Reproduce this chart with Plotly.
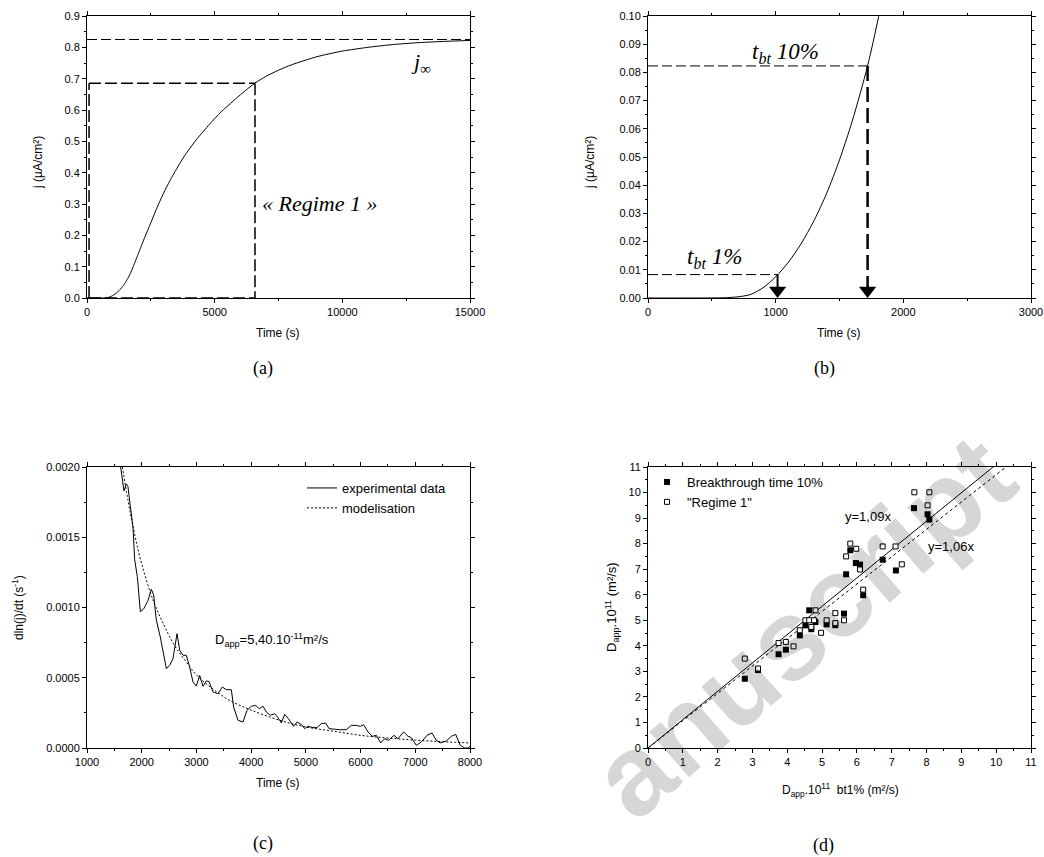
import plotly.graph_objects as go

# ---------------- data ----------------
# (a)/(b) permeation transient j(t)
t_s = [0, 400, 600, 700, 800, 900, 1000, 1100, 1200, 1300, 1400, 1500, 1600, 1720, 1807,
       1900, 2000, 2219, 2500, 2715, 3000, 3238, 3600, 3890, 4300, 4804, 5250, 5718, 6100, 6580,
       7000, 7500, 8000, 9000, 10000, 11000, 12000, 13000, 14000, 15000]
j_uA = [0, 0, 0.0001, 0.0004, 0.0012, 0.0036, 0.0075, 0.0127, 0.0193, 0.0274, 0.0372,
        0.0490, 0.0628, 0.0823, 0.0998, 0.1188, 0.1395, 0.185, 0.240, 0.283, 0.335, 0.373,
        0.425, 0.462, 0.507, 0.555, 0.594, 0.628, 0.655, 0.686, 0.707, 0.727, 0.744, 0.770,
        0.788, 0.800, 0.809, 0.815, 0.819, 0.822]
j_inf = 0.825
t_regime1_start = 80
t_regime1 = 6580
j_regime1 = 0.685
t_bt1, j_bt1 = 1015, 0.0083
t_bt10, j_bt10 = 1720, 0.0823

# (c) dln(j)/dt
t_exp = [1615, 1646, 1676, 1719, 1749, 1792, 1841, 1871, 1920, 1975, 2036, 2115, 2176, 2218,
         2267, 2340, 2450, 2511, 2572, 2645, 2694, 2755, 2815, 2876, 2937, 2998, 3059, 3120,
         3181, 3230, 3303, 3394, 3473, 3546, 3638, 3680, 3760, 3851, 3924, 4003, 4083, 4144,
         4217, 4278, 4351, 4430, 4491, 4552, 4613, 4680, 4777, 4838, 4917, 4978, 5039, 5130,
         5203, 5283, 5362, 5423, 5496, 5618, 5740, 5831, 5922, 5996, 6056, 6136, 6215, 6288,
         6367, 6440, 6513, 6611, 6684, 6787, 6867, 6928, 7019, 7110, 7214, 7305, 7384, 7457,
         7567, 7659, 7738, 7823, 7902, 7963, 8000]
dlnj_exp = [0.00200, 0.00191, 0.00183, 0.00188, 0.00186, 0.00172, 0.00157, 0.00134, 0.00122,
            0.00097, 0.00099, 0.00105, 0.00113, 0.00109, 0.00091, 0.00079, 0.000565, 0.000588,
            0.000636, 0.000814, 0.000695, 0.00066, 0.00066, 0.000577, 0.00047, 0.000441,
            0.000517, 0.000439, 0.000477, 0.000474, 0.000399, 0.000387, 0.000434, 0.000415,
            0.000415, 0.000292, 0.000197, 0.000185, 0.000268, 0.000297, 0.000304, 0.00028,
            0.000297, 0.000256, 0.000233, 0.000244, 0.000216, 0.000178, 0.00024, 0.000209,
            0.000154, 0.000185, 0.000168, 0.000138, 0.000154, 0.000145, 0.000145, 0.000173,
            0.000178, 0.000138, 0.000133, 0.00013, 0.00013, 0.000161, 0.000161, 0.000154,
            0.000166, 0.000114, 0.000083, 0.00009, 0.000036, 0.000066, 0.000055, 0.00009,
            0.000066, 0.000114, 0.000083, 0.000074, 0.000019, 0.000043, 0.00009, 0.000107,
            0.000055, 0.000036, 0.00005, 0.000083, 0.000097, 0.000019, 0.0, 0.0, 0.000012]
t_mod = [1646, 1750, 1871, 2000, 2200, 2400, 2600, 2800, 3000, 3300, 3600, 4000, 4500, 5000,
         5500, 6000, 6500, 7000, 7500, 8000]
dlnj_mod = [0.00200, 0.00176, 0.00152, 0.00131, 0.00106, 0.00088, 0.00073, 0.00062, 0.00052,
            0.00042, 0.00034, 0.00027, 0.00020, 0.00015, 0.00012, 0.000090, 0.000071,
            0.000056, 0.000045, 0.000036]

# (d) D_app comparison
x_bt10 = [2.78, 3.16, 3.75, 3.96, 4.36, 4.52, 4.63, 4.69, 4.81, 5.13, 5.38, 5.63, 5.69, 5.81,
          5.97, 6.09, 6.18, 6.74, 7.12, 7.64, 8.03, 8.08]
y_bt10 = [2.71, 3.05, 3.67, 3.85, 4.41, 4.80, 5.39, 4.65, 4.93, 4.84, 4.81, 5.26, 6.80, 7.74,
          7.24, 7.18, 5.98, 7.37, 6.95, 9.39, 9.15, 8.94]
x_reg1 = [2.78, 3.16, 3.75, 3.96, 4.18, 4.36, 4.52, 4.63, 4.69, 4.77, 4.81, 4.97, 5.13, 5.38,
          5.38, 5.63, 5.69, 5.81, 5.98, 6.09, 6.18, 6.74, 7.11, 7.29, 7.65, 8.08, 8.03]
y_reg1 = [3.50, 3.11, 4.11, 4.15, 3.98, 4.61, 5.00, 5.00, 4.74, 5.00, 5.39, 4.51, 5.00, 5.28,
          4.89, 5.00, 7.50, 8.00, 7.80, 6.99, 6.20, 7.89, 7.89, 7.19, 10.01, 10.01, 9.50]
slope_bt10 = 1.11
slope_reg1 = 1.07
x_fit = [0, 11]

# ---------------- layout helpers ----------------
W, H = 1044, 857
def fx(p):
    return p / W
def fy(p):
    return 1 - p / H

SANS = "Liberation Sans, Arial, sans-serif"
SERIF = "Liberation Serif, Times New Roman, serif"

fig = go.Figure()

# (a)
fig.add_trace(go.Scatter(x=t_s, y=j_uA, mode="lines", line=dict(color="black", width=1, shape="spline", smoothing=0.6),
                         showlegend=False, xaxis="x", yaxis="y"))
# (b)
fig.add_trace(go.Scatter(x=t_s, y=j_uA, mode="lines", line=dict(color="black", width=1, shape="spline", smoothing=0.8),
                         showlegend=False, xaxis="x2", yaxis="y2"))
tip_off = 0.1 * 7.5 / 282
fig.add_trace(go.Scatter(x=[t_bt1, t_bt10], y=[tip_off, tip_off], mode="markers",
                         marker=dict(symbol="triangle-down", size=15, color="black"),
                         showlegend=False, xaxis="x2", yaxis="y2", cliponaxis=False))
# (c)
fig.add_trace(go.Scatter(x=t_exp, y=dlnj_exp, mode="lines", name="experimental data",
                         line=dict(color="black", width=1), xaxis="x3", yaxis="y3", legend="legend"))
fig.add_trace(go.Scatter(x=t_mod, y=dlnj_mod, mode="lines", name="modelisation",
                         line=dict(color="black", width=1, dash="2px,2px", shape="spline"),
                         xaxis="x3", yaxis="y3", legend="legend"))
# (d)
fig.add_trace(go.Scatter(x=x_fit, y=[slope_bt10 * v for v in x_fit], mode="lines", showlegend=False,
                         line=dict(color="black", width=1), xaxis="x4", yaxis="y4"))
fig.add_trace(go.Scatter(x=x_fit, y=[slope_reg1 * v for v in x_fit], mode="lines", showlegend=False,
                         line=dict(color="black", width=1, dash="3px,3px"), xaxis="x4", yaxis="y4"))
fig.add_trace(go.Scatter(x=x_bt10, y=y_bt10, mode="markers", name="Breakthrough time 10%",
                         marker=dict(symbol="square", size=6, color="black"),
                         xaxis="x4", yaxis="y4", legend="legend2"))
fig.add_trace(go.Scatter(x=x_reg1, y=y_reg1, mode="markers", name="\"Regime 1\"",
                         marker=dict(symbol="square", size=5, color="white", line=dict(color="black", width=1)),
                         xaxis="x4", yaxis="y4", legend="legend2"))

axis_common = dict(showline=True, linecolor="black", linewidth=1, mirror="ticks", ticks="outside",
                   ticklen=4, tickwidth=1, tickcolor="black", showgrid=False, zeroline=False,
                   tickfont=dict(family=SANS, size=11, color="black"), automargin=False)

def minor(d):
    return dict(ticks="outside", ticklen=2, tickwidth=1, tickcolor="black", dtick=d, showgrid=False)

xa = [fx(87), fx(470)]
xb = [fx(648), fx(1031)]
ytop = [fy(298), fy(16)]
ybot = [fy(748), fy(467)]

fig.update_layout(
    width=W, height=H, margin=dict(l=0, r=0, t=0, b=0),
    paper_bgcolor="white", plot_bgcolor="white",
    xaxis=dict(domain=xa, range=[0, 15000], dtick=5000, tick0=0, minor=minor(2500), anchor="y", tickformat="d", **axis_common),
    yaxis=dict(domain=ytop, range=[0, 0.9], dtick=0.1, tick0=0, minor=minor(0.05), anchor="x", tickformat=".1f", **axis_common),
    xaxis2=dict(domain=xb, range=[0, 3000], dtick=1000, tick0=0, minor=minor(500), anchor="y2", tickformat="d", **axis_common),
    yaxis2=dict(domain=ytop, range=[0, 0.1], dtick=0.01, tick0=0, minor=minor(0.005), anchor="x2", tickformat=".2f", **axis_common),
    xaxis3=dict(domain=xa, range=[1000, 8000], dtick=1000, tick0=0, minor=minor(500), anchor="y3", tickformat="d", **axis_common),
    yaxis3=dict(domain=ybot, range=[0, 0.002], dtick=0.0005, tick0=0, minor=minor(0.00025), anchor="x3", tickformat=".4f", **axis_common),
    xaxis4=dict(domain=xb, range=[0, 11], dtick=1, tick0=0, minor=minor(0.5), anchor="y4", **axis_common),
    yaxis4=dict(domain=ybot, range=[0, 11], dtick=1, tick0=0, minor=minor(0.5), anchor="x4", **axis_common),
    legend=dict(x=fx(302), y=fy(473), xanchor="left", yanchor="top", bgcolor="rgba(0,0,0,0)",
                font=dict(family=SANS, size=13, color="black"), tracegroupgap=0),
    legend2=dict(x=fx(647), y=fy(467), xanchor="left", yanchor="top", bgcolor="rgba(0,0,0,0)",
                 font=dict(family=SANS, size=13, color="black"), tracegroupgap=0),
    showlegend=True,
)

shapes = []
# (a) dashed lines
shapes.append(dict(type="line", xref="x", yref="y", x0=0, x1=15000, y0=j_inf, y1=j_inf,
                   line=dict(color="black", width=1, dash="10px,4px")))
for (x0, y0, x1, y1) in [(t_regime1_start, 0, t_regime1_start, j_regime1),
                         (t_regime1_start, j_regime1, t_regime1, j_regime1),
                         (t_regime1, j_regime1, t_regime1, 0),
                         (t_regime1_start, 0, t_regime1, 0)]:
    shapes.append(dict(type="line", xref="x", yref="y", x0=x0, y0=y0, x1=x1, y1=y1,
                       line=dict(color="black", width=1.5, dash="12px,4px")))
# (b)
shapes.append(dict(type="line", xref="x2", yref="y2", x0=0, x1=t_bt1, y0=j_bt1, y1=j_bt1,
                   line=dict(color="black", width=1, dash="10px,4px")))
shapes.append(dict(type="line", xref="x2", yref="y2", x0=0, x1=t_bt10, y0=j_bt10, y1=j_bt10,
                   line=dict(color="black", width=1, dash="10px,4px")))
shapes.append(dict(type="line", xref="x2", yref="y2", x0=t_bt1, x1=t_bt1, y0=j_bt1, y1=tip_off,
                   line=dict(color="black", width=2)))
shapes.append(dict(type="line", xref="x2", yref="y2", x0=t_bt10, x1=t_bt10, y0=j_bt10, y1=tip_off,
                   line=dict(color="black", width=2.5, dash="15px,6px")))
fig.update_layout(shapes=shapes)

ann = []
def at(text, x, y, xref, yref, size, family=SANS, xanchor="left", yanchor="middle", angle=0, color="black"):
    ann.append(dict(text=text, x=x, y=y, xref=xref, yref=yref, showarrow=False, xanchor=xanchor,
                    yanchor=yanchor, textangle=angle, font=dict(family=family, size=size, color=color)))

# faint page watermark crossing panel (d)
at("<b>anuscript</b>", fx(802), fy(626), "paper", "paper", 114, SANS, xanchor="center", angle=-41,
   color="rgba(0,0,0,0.16)")

at("<i>« Regime 1 »</i>", 6775, 0.303, "x", "y", 22, SERIF)
at("<i>j</i><sub>∞</sub>", 13081, 0.75, "x", "y", 22, SERIF, xanchor="center")
at("<i>t<sub>bt</sub> 10%</i>", 799, 0.0869, "x2", "y2", 23, SERIF)
at("<i>t<sub>bt</sub> 1%</i>", 290, 0.0142, "x2", "y2", 23, SERIF)
at("D<sub>app</sub>=5,40.10<sup>-11</sup>m²/s", 3303, 0.000769, "x3", "y3", 13)
at("y=1,09x", 5.6, 9.08, "x4", "y4", 13)
at("y=1,06x", 7.99, 7.87, "x4", "y4", 13)

# axis titles
at("Time (s)", fx(278), fy(333), "paper", "paper", 12, xanchor="center")
at("j (µA/cm²)", fx(38), fy(163), "paper", "paper", 12, xanchor="center", angle=-90)
at("Time (s)", fx(839), fy(333), "paper", "paper", 12, xanchor="center")
at("j (µA/cm²)", fx(590), fy(163), "paper", "paper", 12, xanchor="center", angle=-90)
at("Time (s)", fx(278), fy(783), "paper", "paper", 12, xanchor="center")
at("dln(j)/dt (s<sup>-1</sup>)", fx(18), fy(608), "paper", "paper", 12, xanchor="center", angle=-90)
at("D<sub>app</sub>.10<sup>11</sup>  bt1% (m²/s)", fx(840), fy(790), "paper", "paper", 12, xanchor="center")
at("D<sub>app</sub>.10<sup>11</sup> (m²/s)", fx(612), fy(607), "paper", "paper", 13, xanchor="center", angle=-90)

# captions
at("(a)", fx(263), fy(368), "paper", "paper", 18, SERIF, xanchor="center")
at("(b)", fx(824), fy(368), "paper", "paper", 18, SERIF, xanchor="center")
at("(c)", fx(263), fy(843), "paper", "paper", 18, SERIF, xanchor="center")
at("(d)", fx(823), fy(845), "paper", "paper", 18, SERIF, xanchor="center")

fig.update_layout(annotations=ann)
fig.write_html("out.html")
